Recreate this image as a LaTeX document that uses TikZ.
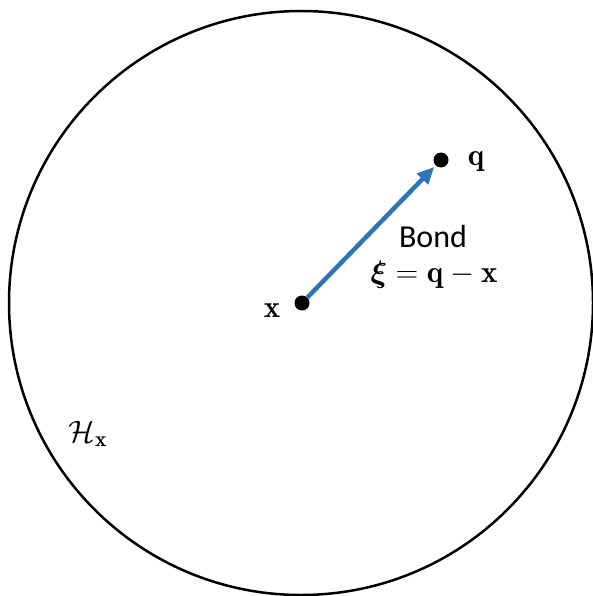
\RequirePackage{fix-cm}
\documentclass[tikz,border=0pt]{standalone}
\usepackage{amsmath,bm}
\usepackage{fontspec}
\newfontfamily\bondfont{Carlito}
\usetikzlibrary{arrows.meta}
\definecolor{bondblue}{RGB}{46,117,182}
\tikzset{
  dot/.style={circle,fill=black,inner sep=0pt,minimum size=15pt},
  lab/.style={inner sep=0pt,font=\fontsize{31}{36}\selectfont},
  bondarrow/.style={draw=bondblue,line width=4.5pt,-{Triangle[length=17pt,width=15pt]},shorten >=2pt}
}
\begin{document}
\begin{tikzpicture}[x=1pt,y=-1pt]
\useasboundingbox (0,0) rectangle (593,596);
\draw[line width=2.5pt] (301,303) circle (292);
\node[dot] (x) at (302,303) {};
\node[dot] (q) at (441,160) {};
\draw[bondarrow] (x) -- (q);
\node[lab,anchor=center] (xl) at (272,311) {$\mathbf{x}$};
\node[lab,anchor=center] (ql) at (476,162) {$\mathbf{q}$};
\node[inner sep=0pt,font=\bondfont\fontsize{32}{36}\selectfont] (bond) at (433,236) {Bond};
\node[lab] (xi) at (434,275) {$\boldsymbol{\xi}=\mathbf{q}-\mathbf{x}$};
\node[lab] (H) at (88,434) {$\mathcal{H}_{\mathbf{x}}$};
\end{tikzpicture}
\end{document}
